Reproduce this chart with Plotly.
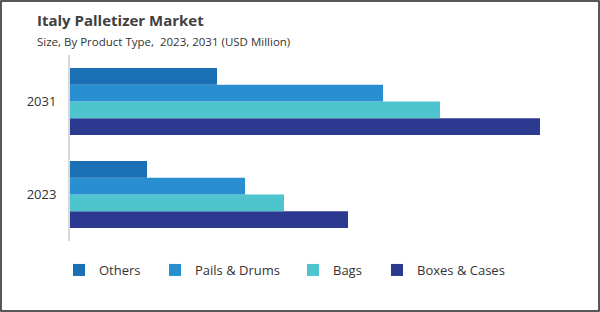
import plotly.graph_objects as go

categories = ["2023", "2031"]
series_names = ["Others", "Pails & Drums", "Bags", "Boxes & Cases"]
others = [77, 147]
pails = [175, 313]
bags = [214, 370]
boxes = [278, 470]
colors = ["#1a6fb5", "#2a8fd0", "#4ec4cf", "#2b3990"]

values = [others, pails, bags, boxes]

W, H = 600, 312
ml, mr, mt, mb = 70, 20, 55, 71
pw, ph = W - ml - mr, H - mt - mb

fig = go.Figure()
legend_text_x = [99, 195, 333, 417]
for i in reversed(range(4)):
    lg = "legend" if i == 0 else f"legend{i+1}"
    fig.add_trace(go.Bar(
        y=categories, x=values[i], name=series_names[i], orientation="h",
        marker=dict(color=colors[i], line=dict(width=0)),
        legend=lg, hoverinfo="x+name",
    ))

layout_legends = {}
for i in range(4):
    key = "legend" if i == 0 else f"legend{i+1}"
    layout_legends[key] = dict(
        x=(legend_text_x[i] - 40 - ml) / pw, y=-((270 - (mt + ph)) / ph),
        xanchor="left", yanchor="middle", orientation="h",
        font=dict(family="Open Sans", size=13, color="#333333"),
        bgcolor="rgba(0,0,0,0)", itemwidth=30, tracegroupgap=0,
    )

fig.update_layout(
    width=W, height=H,
    margin=dict(l=ml, r=mr, t=mt, b=mb),
    paper_bgcolor="white", plot_bgcolor="white",
    barmode="group", bargap=0.28, bargroupgap=0,
    showlegend=True,
    xaxis=dict(range=[0, pw], visible=False, fixedrange=True),
    yaxis=dict(range=[-0.5, 1.5], showgrid=False, zeroline=False,
               showline=True, linecolor="#d9d9d9", linewidth=2,
               ticks="", ticklabelstandoff=9,
               tickfont=dict(family="Open Sans", size=13, color="#333333")),
    annotations=[
        dict(text="<b>Italy Palletizer Market</b>", x=(35 - ml) / pw, y=1 + (mt - 20) / ph,
             xref="paper", yref="paper", xanchor="left", yanchor="middle", showarrow=False,
             font=dict(family="Open Sans", size=15, color="#404040")),
        dict(text="Size, By Product Type,  2023, 2031 (USD Million)", x=(35 - ml) / pw, y=1 + (mt - 41) / ph,
             xref="paper", yref="paper", xanchor="left", yanchor="middle", showarrow=False,
             font=dict(family="Open Sans", size=11.5, color="#333333")),
    ],
    shapes=[dict(type="rect", xref="paper", yref="paper",
                 x0=(1 - ml) / pw, x1=(W - 1 - ml) / pw,
                 y0=-(mb - 1) / ph, y1=1 + (mt - 1) / ph,
                 line=dict(color="#222222", width=1.5), fillcolor="rgba(0,0,0,0)")],
    **layout_legends,
)

fig.write_html("out.html")
